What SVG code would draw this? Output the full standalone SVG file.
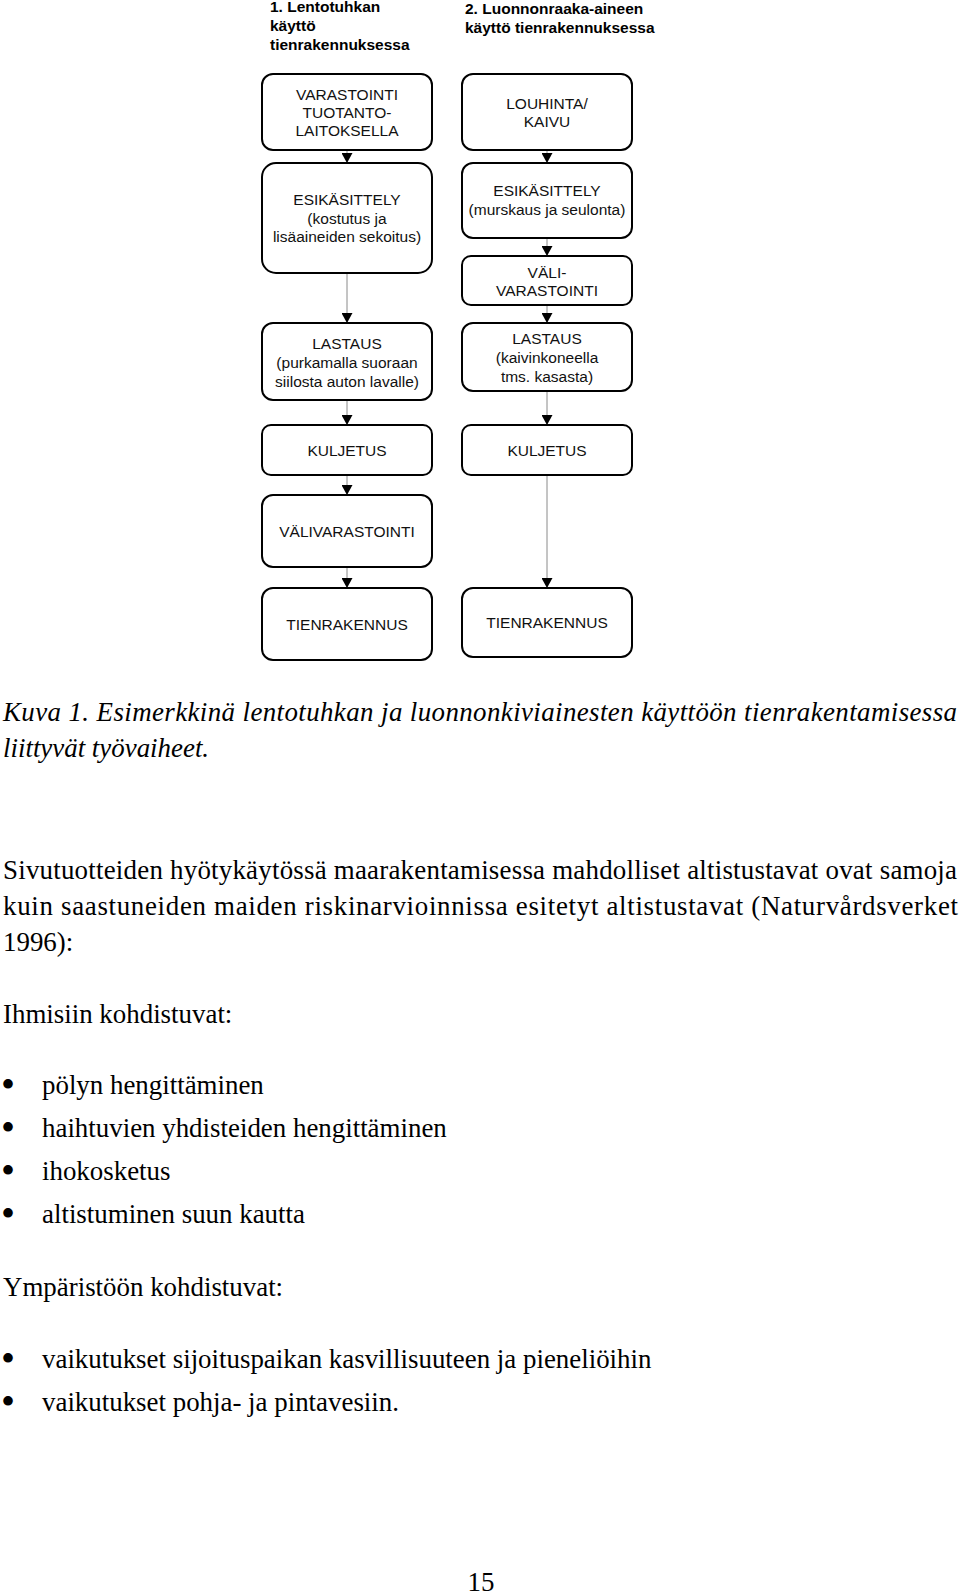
<svg xmlns="http://www.w3.org/2000/svg" width="960" height="1596" viewBox="0 0 960 1596">
<defs>
<style>
.box{fill:#fff;stroke:#000;stroke-width:2}
.bt{font-family:"Liberation Sans",Arial,sans-serif;font-size:15.5px;fill:#111;text-anchor:middle}
.hd{font-family:"Liberation Sans",Arial,sans-serif;font-size:15.5px;font-weight:bold;fill:#000}
.cn{stroke:#8a8a8a;stroke-width:1;fill:none;marker-end:url(#ah)}
.tx{font-family:"Liberation Serif","Times New Roman",serif;font-size:26.9px;fill:#000}
.it{font-style:italic}
.bl{font-family:"Liberation Serif","Times New Roman",serif;font-size:40px;fill:#000}
</style>
<marker id="ah" markerUnits="userSpaceOnUse" markerWidth="10" markerHeight="11" refX="10" refY="5" orient="auto" viewBox="0 0 10 10" preserveAspectRatio="none">
<path d="M0,0 L10,5 L0,10 z" fill="#000"/>
</marker>
</defs>
<rect width="960" height="1596" fill="#fff"/>

<g id="headings">
<text class="hd" x="270" y="12">1. Lentotuhkan</text>
<text class="hd" x="270" y="31">käyttö</text>
<text class="hd" x="270" y="50">tienrakennuksessa</text>
<text class="hd" x="465" y="13.5">2. Luonnonraaka-aineen</text>
<text class="hd" x="465" y="32.5">käyttö tienrakennuksessa</text>
</g>

<g id="connectors">
<line class="cn" x1="347" y1="151" x2="347" y2="163"/>
<line class="cn" x1="347" y1="274" x2="347" y2="323"/>
<line class="cn" x1="347" y1="401" x2="347" y2="425"/>
<line class="cn" x1="347" y1="476" x2="347" y2="495"/>
<line class="cn" x1="347" y1="568" x2="347" y2="588"/>
<line class="cn" x1="547" y1="151" x2="547" y2="163"/>
<line class="cn" x1="547" y1="239" x2="547" y2="256"/>
<line class="cn" x1="547" y1="306" x2="547" y2="323"/>
<line class="cn" x1="547" y1="392" x2="547" y2="425"/>
<line class="cn" x1="547" y1="476" x2="547" y2="588"/>
</g>

<g id="l-varastointi">
<rect class="box" x="262" y="74" width="170" height="76" rx="11"/>
<text class="bt" x="347" y="99.5">VARASTOINTI</text>
<text class="bt" x="347" y="117.5">TUOTANTO-</text>
<text class="bt" x="347" y="135.5">LAITOKSELLA</text>
</g>
<g id="l-esikasittely">
<rect class="box" x="262" y="163" width="170" height="110" rx="14"/>
<text class="bt" x="347" y="205">ESIKÄSITTELY</text>
<text class="bt" x="347" y="223.5">(kostutus ja</text>
<text class="bt" x="347" y="242">lisäaineiden sekoitus)</text>
</g>
<g id="l-lastaus">
<rect class="box" x="262" y="323" width="170" height="77" rx="11"/>
<text class="bt" x="347" y="348.5">LASTAUS</text>
<text class="bt" x="347" y="368">(purkamalla suoraan</text>
<text class="bt" x="347" y="387">siilosta auton lavalle)</text>
</g>
<g id="l-kuljetus">
<rect class="box" x="262" y="425" width="170" height="50" rx="9"/>
<text class="bt" x="347" y="456">KULJETUS</text>
</g>
<g id="l-valivarastointi">
<rect class="box" x="262" y="495" width="170" height="72" rx="11"/>
<text class="bt" x="347" y="536.5">VÄLIVARASTOINTI</text>
</g>
<g id="l-tienrakennus">
<rect class="box" x="262" y="588" width="170" height="72" rx="11"/>
<text class="bt" x="347" y="630">TIENRAKENNUS</text>
</g>

<g id="r-louhinta">
<rect class="box" x="462" y="74" width="170" height="76" rx="11"/>
<text class="bt" x="547" y="108.5">LOUHINTA/</text>
<text class="bt" x="547" y="126.5">KAIVU</text>
</g>
<g id="r-esikasittely">
<rect class="box" x="462" y="163" width="170" height="75" rx="11"/>
<text class="bt" x="547" y="196">ESIKÄSITTELY</text>
<text class="bt" x="547" y="215">(murskaus ja seulonta)</text>
</g>
<g id="r-valivarastointi">
<rect class="box" x="462" y="256" width="170" height="49" rx="9"/>
<text class="bt" x="547" y="277.5">VÄLI-</text>
<text class="bt" x="547" y="296">VARASTOINTI</text>
</g>
<g id="r-lastaus">
<rect class="box" x="462" y="323" width="170" height="68" rx="11"/>
<text class="bt" x="547" y="344">LASTAUS</text>
<text class="bt" x="547" y="363">(kaivinkoneella</text>
<text class="bt" x="547" y="382">tms. kasasta)</text>
</g>
<g id="r-kuljetus">
<rect class="box" x="462" y="425" width="170" height="50" rx="9"/>
<text class="bt" x="547" y="456">KULJETUS</text>
</g>
<g id="r-tienrakennus">
<rect class="box" x="462" y="588" width="170" height="69" rx="11"/>
<text class="bt" x="547" y="628">TIENRAKENNUS</text>
</g>

<g id="caption">
<text class="tx it" x="3" y="721" textLength="954" lengthAdjust="spacing">Kuva 1. Esimerkkinä lentotuhkan ja luonnonkiviainesten käyttöön tienrakentamisessa</text>
<text class="tx it" x="3" y="757">liittyvät työvaiheet.</text>
</g>

<g id="body">
<text class="tx" x="3" y="879" textLength="954" lengthAdjust="spacing">Sivutuotteiden hyötykäytössä maarakentamisessa mahdolliset altistustavat ovat samoja</text>
<text class="tx" x="3" y="915" textLength="955" lengthAdjust="spacing">kuin saastuneiden maiden riskinarvioinnissa esitetyt altistustavat (Naturvårdsverket</text>
<text class="tx" x="3" y="951">1996):</text>
<text class="tx" x="3" y="1023">Ihmisiin kohdistuvat:</text>
<text class="bl" x="1" y="1098">•</text><text class="tx" x="42" y="1094">pölyn hengittäminen</text>
<text class="bl" x="1" y="1141">•</text><text class="tx" x="42" y="1137">haihtuvien yhdisteiden hengittäminen</text>
<text class="bl" x="1" y="1184">•</text><text class="tx" x="42" y="1180">ihokosketus</text>
<text class="bl" x="1" y="1227">•</text><text class="tx" x="42" y="1223">altistuminen suun kautta</text>
<text class="tx" x="3" y="1296">Ympäristöön kohdistuvat:</text>
<text class="bl" x="1" y="1372">•</text><text class="tx" x="42" y="1368">vaikutukset sijoituspaikan kasvillisuuteen ja pieneliöihin</text>
<text class="bl" x="1" y="1415">•</text><text class="tx" x="42" y="1411">vaikutukset pohja- ja pintavesiin.</text>
<text class="tx" x="481" y="1591" text-anchor="middle">15</text>
</g>
</svg>
